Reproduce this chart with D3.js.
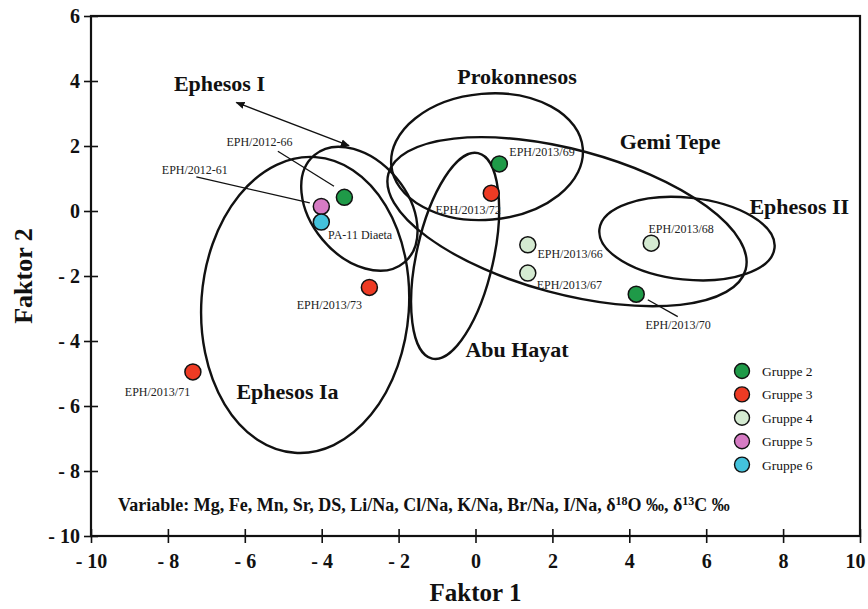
<!DOCTYPE html>
<html>
<head>
<meta charset="utf-8">
<script src="https://cdn.jsdelivr.net/npm/d3@7"></script>
<style>
  body { margin: 0; background: #fff; }
  svg text { font-family: "Liberation Serif", "DejaVu Serif", serif; }
</style>
</head>
<body>
<div id="graph"></div>
<script>
var svgWidth = 868;
var svgHeight = 609;

var margin = { top: 16, right: 8, bottom: 73, left: 91 };
var width = svgWidth - margin.left - margin.right;
var height = svgHeight - margin.top - margin.bottom;

// axis ticks
var xTicks = [-10, -8, -6, -4, -2, 0, 2, 4, 6, 8, 10];
var yTicks = [-10, -8, -6, -4, -2, 0, 2, 4, 6];

// groups
var groupNames = ["Gruppe 2", "Gruppe 3", "Gruppe 4", "Gruppe 5", "Gruppe 6"];
var groupColors = ["#1f9a48", "#ee3b24", "#d4ead1", "#d67bc4", "#43c2dc"];

// samples (Faktor 1, Faktor 2)
var sampleIds = ["EPH/2013/71", "EPH/2013/73", "EPH/2012-66", "EPH/2012-61", "PA-11 Diaeta",
                 "EPH/2013/69", "EPH/2013/72", "EPH/2013/66", "EPH/2013/67", "EPH/2013/68", "EPH/2013/70"];
var factor1 = [-7.35, -2.76, -3.41, -4.01, -4.01, 0.62, 0.41, 1.36, 1.36, 4.57, 4.18];
var factor2 = [-4.95, -2.35, 0.42, 0.14, -0.34, 1.45, 0.55, -1.04, -1.91, -0.99, -2.56];
var sampleGroup = ["Gruppe 3", "Gruppe 3", "Gruppe 2", "Gruppe 5", "Gruppe 6",
                   "Gruppe 2", "Gruppe 3", "Gruppe 4", "Gruppe 4", "Gruppe 4", "Gruppe 2"];

// sample labels (text centre x, baseline y)
var labelX = [-8.27, -3.80, -5.62, -7.30, -3.00, 1.73, -0.19, 2.46, 2.44, 5.35, 5.27];
var labelY = [-5.68, -3.01, 2.01, 1.15, -0.85, 1.70, -0.08, -1.44, -2.39, -0.67, -3.63];

// leader lines
var leaderFrom = [[-5.14, 1.84], [-7.26, 1.05], [4.48, -2.73]];
var leaderTo = [[-3.68, 0.76], [-4.31, 0.25], [5.26, -3.25]];

// source areas (ellipses)
var areaNames = ["Ephesos I", "Ephesos Ia", "Abu Hayat", "Prokonnesos", "Gemi Tepe", "Ephesos II"];
var areaCx = [-3.02, -4.43, -0.53, 0.30, 2.38, 5.50];
var areaCy = [0.07, -2.89, -1.38, 1.67, -0.33, -0.85];
var areaRx = [1.82, 2.70, 1.00, 2.50, 4.81, 2.29];
var areaRy = [1.48, 4.56, 3.24, 1.94, 2.22, 1.26];
var areaAngle = [50, 4, 12.6, -5, 15, 6];
var areaLabelX = [-6.66, -4.89, 1.08, 1.08, 5.06, 8.42];
var areaLabelY = [3.68, -5.78, -4.49, 3.92, 1.92, -0.08];

// double arrow for Ephesos I
var arrowFrom = [-6.22, 3.34];
var arrowTo = [-3.29, 2.01];

var svg = d3.select("#graph")
  .append("svg")
  .attr("width", svgWidth)
  .attr("height", svgHeight);

var defs = svg.append("defs");
defs.append("marker")
  .attr("id", "head")
  .attr("viewBox", "0 0 10 10")
  .attr("refX", 9).attr("refY", 5)
  .attr("markerWidth", 9).attr("markerHeight", 9)
  .attr("markerUnits", "userSpaceOnUse")
  .attr("orient", "auto-start-reverse")
  .append("path")
  .attr("d", "M0,1 L10,5 L0,9 Z")
  .attr("fill", "#111");

var chartGroup = svg.append("g")
  .attr("transform", `translate(${margin.left}, ${margin.top})`);

var x = d3.scaleLinear().domain([-10, 10]).range([0, width]);
var y = d3.scaleLinear().domain([-10, 6]).range([height, 0]);

var fmt = d => d < 0 ? "- " + Math.abs(d) : String(d);

var xAxis = chartGroup.append("g")
  .attr("transform", `translate(0, ${height})`)
  .call(d3.axisBottom(x).tickValues(xTicks).tickFormat(fmt).tickSize(7).tickPadding(11));
xAxis.selectAll(".tick line").attr("y1", -7).attr("stroke", "#111").attr("stroke-width", 1.6);
// keep the last label inside the picture
xAxis.selectAll(".tick text").filter(d => d === 10).attr("dx", -5);

var yAxis = chartGroup.append("g")
  .call(d3.axisLeft(y).tickValues(yTicks).tickFormat(fmt).tickSize(7).tickPadding(4));
yAxis.selectAll(".tick line").attr("x1", 7).attr("stroke", "#111").attr("stroke-width", 1.6);

chartGroup.selectAll(".domain").remove();
chartGroup.selectAll(".tick text")
  .attr("font-family", "Liberation Serif, serif")
  .attr("font-size", 20)
  .attr("font-weight", "bold")
  .attr("fill", "#111");

// frame
chartGroup.append("rect")
  .attr("x", 0).attr("y", 0)
  .attr("width", width).attr("height", height)
  .attr("fill", "none")
  .attr("stroke", "#111")
  .attr("stroke-width", 2.2);

// ellipses
chartGroup.selectAll("ellipse.area")
  .data(areaNames)
  .enter()
  .append("ellipse")
  .attr("class", "area")
  .attr("cx", (d, i) => x(areaCx[i]))
  .attr("cy", (d, i) => y(areaCy[i]))
  .attr("rx", (d, i) => x(areaCx[i] + areaRx[i]) - x(areaCx[i]))
  .attr("ry", (d, i) => y(areaCy[i]) - y(areaCy[i] + areaRy[i]))
  .attr("transform", (d, i) => `rotate(${areaAngle[i]}, ${x(areaCx[i])}, ${y(areaCy[i])})`)
  .attr("fill", "none")
  .attr("stroke", "#111")
  .attr("stroke-width", 2.4);

chartGroup.selectAll("text.area")
  .data(areaNames)
  .enter()
  .append("text")
  .attr("class", "area")
  .attr("x", (d, i) => x(areaLabelX[i]))
  .attr("y", (d, i) => y(areaLabelY[i]))
  .attr("text-anchor", "middle")
  .attr("font-size", 22)
  .attr("font-weight", "bold")
  .attr("fill", "#111")
  .text(d => d);

// arrow
chartGroup.append("line")
  .attr("x1", x(arrowFrom[0])).attr("y1", y(arrowFrom[1]))
  .attr("x2", x(arrowTo[0])).attr("y2", y(arrowTo[1]))
  .attr("stroke", "#111")
  .attr("stroke-width", 1.4)
  .attr("marker-start", "url(#head)")
  .attr("marker-end", "url(#head)");

// leader lines
chartGroup.selectAll("line.leader")
  .data(leaderFrom)
  .enter()
  .append("line")
  .attr("class", "leader")
  .attr("x1", d => x(d[0])).attr("y1", d => y(d[1]))
  .attr("x2", (d, i) => x(leaderTo[i][0])).attr("y2", (d, i) => y(leaderTo[i][1]))
  .attr("stroke", "#111")
  .attr("stroke-width", 1.3);

// points
var color = d3.scaleOrdinal().domain(groupNames).range(groupColors);

chartGroup.selectAll("circle.pt")
  .data(sampleIds)
  .enter()
  .append("circle")
  .attr("class", "pt")
  .attr("cx", (d, i) => x(factor1[i]))
  .attr("cy", (d, i) => y(factor2[i]))
  .attr("r", 8)
  .attr("fill", (d, i) => color(sampleGroup[i]))
  .attr("stroke", "#111")
  .attr("stroke-width", 1.5);

chartGroup.selectAll("text.pt")
  .data(sampleIds)
  .enter()
  .append("text")
  .attr("class", "pt")
  .attr("x", (d, i) => x(labelX[i]))
  .attr("y", (d, i) => y(labelY[i]))
  .attr("text-anchor", "middle")
  .attr("font-size", 12)
  .attr("fill", "#222")
  .text(d => d);

// variable note
var note = chartGroup.append("text")
  .attr("x", 27)
  .attr("y", 495)
  .attr("font-size", 18)
  .attr("font-weight", "bold")
  .attr("fill", "#111");
note.append("tspan").text("Variable: Mg, Fe, Mn, Sr, DS, Li/Na, Cl/Na, K/Na, Br/Na, I/Na, \u03b4");
note.append("tspan").attr("dy", -6).attr("font-size", 12).text("18");
note.append("tspan").attr("dy", 6).text("O \u2030, \u03b4");
note.append("tspan").attr("dy", -6).attr("font-size", 12).text("13");
note.append("tspan").attr("dy", 6).text("C \u2030");

// legend
var legend = chartGroup.append("g")
  .attr("transform", `translate(${width - 118}, 355)`);

var legendItem = legend.selectAll("g")
  .data(groupNames)
  .enter()
  .append("g")
  .attr("transform", (d, i) => `translate(0, ${i * 23.4})`);

legendItem.append("circle")
  .attr("r", 7.5)
  .attr("fill", d => color(d))
  .attr("stroke", "#111")
  .attr("stroke-width", 1.4);

legendItem.append("text")
  .attr("x", 20)
  .attr("y", 5)
  .attr("font-size", 13.5)
  .attr("fill", "#111")
  .text(d => d);

// axis titles
svg.append("text")
  .attr("text-anchor", "middle")
  .attr("x", margin.left + x(0))
  .attr("y", 601)
  .attr("font-size", 25)
  .attr("font-weight", "bold")
  .attr("fill", "#111")
  .text("Faktor 1");

svg.append("text")
  .attr("text-anchor", "middle")
  .attr("transform", `translate(32, ${margin.top + y(-2)}) rotate(-90)`)
  .attr("font-size", 26)
  .attr("font-weight", "bold")
  .attr("fill", "#111")
  .text("Faktor 2");
</script>
</body>
</html>
